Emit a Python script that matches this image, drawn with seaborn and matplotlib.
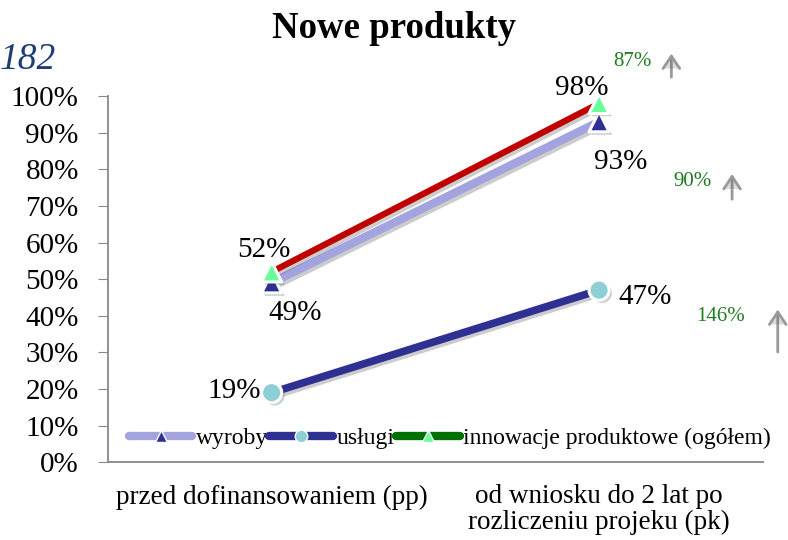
import numpy as np
import pandas as pd
import seaborn as sns
import matplotlib.pyplot as plt
import matplotlib.patheffects as pe
from matplotlib.lines import Line2D
from matplotlib.patches import FancyArrowPatch

# data
categories = ['przed dofinansowaniem (pp)', 'od wniosku do 2 lat po\nrozliczeniu projeku (pk)']
wyroby = [49, 93]
uslugi = [19, 47]
innowacje = [52, 98]
series_names = ['wyroby', 'usługi', 'innowacje produktowe (ogółem)']
growth_labels = ['87%', '90%', '146%']

sns.set_style('white')
plt.rcParams['font.family'] = ['Liberation Serif', 'DejaVu Serif']
plt.rcParams['text.color'] = 'black'
plt.rcParams['xtick.labelcolor'] = 'black'
plt.rcParams['ytick.labelcolor'] = 'black'

df = pd.DataFrame({
    'x': [0, 1] * 3,
    'val': wyroby + uslugi + innowacje,
    'seria': [series_names[0]] * 2 + [series_names[1]] * 2 + [series_names[2]] * 2,
})

fig = plt.figure(figsize=(7.88, 5.4), dpi=100)
ax = fig.add_axes([0.137, 0.144, 0.831, 0.678])

line_col = {series_names[0]: '#A3A3E0', series_names[1]: '#2E3192', series_names[2]: '#C00000'}
line_w = {series_names[0]: 6, series_names[1]: 5.5, series_names[2]: 4.5}
mk = {series_names[0]: '^', series_names[1]: 'o', series_names[2]: '^'}
mk_col = {series_names[0]: '#2E3192', series_names[1]: '#8ECFD6', series_names[2]: '#66FF99'}
leg_col = {series_names[0]: '#A3A3E0', series_names[1]: '#2E3192', series_names[2]: '#007000'}

for name in series_names:
    sub = df[df['seria'] == name]
    sns.lineplot(data=sub, x='x', y='val', ax=ax, color=line_col[name], lw=line_w[name],
                 solid_capstyle='butt', legend=False, zorder=2,
                 path_effects=[pe.SimpleLineShadow(offset=(2, -2), alpha=0.2), pe.Normal()])
    ax.scatter(sub['x'], sub['val'], marker=mk[name], s=210, color=mk_col[name],
               edgecolor='white', linewidth=2.2, zorder=4,
               path_effects=[pe.SimplePatchShadow(offset=(2, -2), alpha=0.25), pe.Normal()])

# value labels
lab_kw = dict(fontsize=21, color='black', zorder=5, va='center')
ax.text(0.058, innowacje[0] + 6, f'{innowacje[0]}%', ha='right', **lab_kw)
ax.text(-0.01, wyroby[0] - 8.3, f'{wyroby[0]}%', ha='left', **lab_kw)
ax.text(-0.034, uslugi[0] + 0.5, f'{uslugi[0]}%', ha='right', **lab_kw)
ax.text(1.03, innowacje[1] + 4.2, f'{innowacje[1]}%', ha='right', **lab_kw)
ax.text(1.067, wyroby[1] - 11, f'{wyroby[1]}%', ha='center', **lab_kw)
ax.text(1.058, uslugi[1] - 2, f'{uslugi[1]}%', ha='left', **lab_kw)

ax.set_xlim(-0.5, 1.5)
ax.set_ylim(0, 100)
ax.set_yticks(np.arange(0, 101, 10))
ax.set_yticklabels([f'{v}%' for v in range(0, 101, 10)], fontsize=21)
ax.set_xticks([0, 1])
ax.set_xticklabels(categories, fontsize=19.5, linespacing=1.0)
ax.set_xticks([-0.5, 0.5, 1.5], minor=True)
ax.tick_params(axis='x', which='major', length=0, pad=16)
ax.tick_params(axis='x', which='minor', length=7, color='#888888', direction='out')
ax.tick_params(axis='y', length=7, color='#888888', direction='out', left=True, pad=14)
ax.set_xlabel('')
ax.set_ylabel('')
for s in ['top', 'right']:
    ax.spines[s].set_visible(False)
for s in ['left', 'bottom']:
    ax.spines[s].set_color('#888888')
    ax.spines[s].set_linewidth(1.3)

# legend
handles = [Line2D([0], [0], color=leg_col[n], lw=6, solid_capstyle='round', marker=mk[n],
                  markersize=9, markerfacecolor=mk_col[n], markeredgecolor='white')
           for n in series_names]
ax.legend(handles, series_names, loc='center', bbox_to_anchor=(0.522, 0.066), ncol=3,
          frameon=False, fontsize=17, handlelength=2.7, handletextpad=0.15, columnspacing=0.05,
          borderpad=0, borderaxespad=0)

fig.suptitle('Nowe produkty', x=0.5, y=0.98, fontsize=26.5, fontweight='bold', color='black')
fig.text(0.0, 0.89, '182', fontsize=27, style='italic', color='#1F3C73', ha='left', va='center')

# growth annotations
for lab, (tx, ty, axx, y0, y1) in zip(growth_labels, [(0.803, 0.887, 0.852, 0.852, 0.906),
                                                     (0.879, 0.663, 0.929, 0.626, 0.683),
                                                     (0.914, 0.413, 0.987, 0.343, 0.432)]):
    fig.text(tx, ty, lab, fontsize=15, color='#1E7B1E', ha='center', va='center')
    fig.patches.append(FancyArrowPatch(
        (axx, y0), (axx, y1), transform=fig.transFigure, arrowstyle='->,head_width=6,head_length=9',
        color='#999999', lw=2, mutation_scale=1,
        path_effects=[pe.SimplePatchShadow(offset=(0, 0), alpha=0.2), pe.Normal()]))

fig.savefig('out.png', dpi=100)
